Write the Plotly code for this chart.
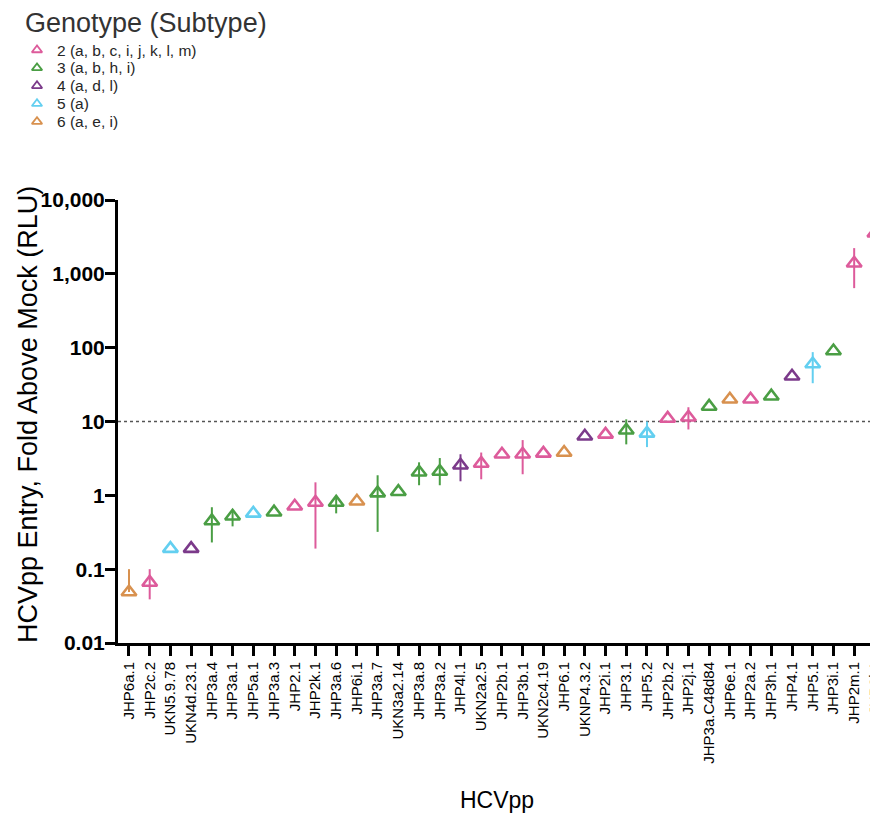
import plotly.graph_objects as go

# ---------------- data ----------------
names = ["JHP6a.1", "JHP2c.2", "UKN5.9.78", "UKN4d.23.1", "JHP3a.4", "JHP3a.1",
         "JHP5a.1", "JHP3a.3", "JHP2.1", "JHP2k.1", "JHP3a.6", "JHP6i.1",
         "JHP3a.7", "UKN3a2.14", "JHP3a.8", "JHP3a.2", "JHP4l.1", "UKN2a2.5",
         "JHP2b.1", "JHP3b.1", "UKN2c4.19", "JHP6.1", "UKNP4.3.2", "JHP2i.1",
         "JHP3.1", "JHP5.2", "JHP2b.2", "JHP2j.1", "JHP3a.C48d84", "JHP6e.1",
         "JHP2a.2", "JHP3h.1", "JHP4.1", "JHP5.1", "JHP3i.1", "JHP2m.1", "JHP2l.1"]
genotype = [6, 2, 5, 4, 3, 3, 5, 3, 2, 2, 3, 6, 3, 3, 3, 3, 4, 2, 2, 2, 2, 6, 4, 2,
            3, 5, 2, 2, 3, 6, 2, 3, 4, 5, 3, 2, 2]
mean = [0.049, 0.066, 0.19, 0.19, 0.45, 0.52, 0.57, 0.59, 0.71, 0.80, 0.80, 0.83,
        1.07, 1.12, 2.05, 2.1, 2.55, 2.7, 3.6, 3.6, 3.7, 3.8, 6.3, 6.7,
        7.6, 6.9, 11.0, 11.4, 16.0, 20.0, 20.0, 22.0, 41.0, 60.0, 90.0, 1390.0, 3550.0]
upper = [0.10, 0.10, 0.19, 0.19, 0.69, 0.62, 0.57, 0.59, 0.71, 1.50, 1.0, 0.83,
         1.87, 1.12, 2.8, 3.2, 3.6, 3.8, 3.6, 5.6, 3.7, 3.8, 6.3, 6.7,
         10.7, 10.0, 11.0, 15.6, 16.0, 20.0, 20.0, 22.0, 41.0, 87.0, 90.0, 2230.0, 5650.0]
lower = [0.049, 0.039, 0.19, 0.19, 0.23, 0.38, 0.57, 0.59, 0.71, 0.19, 0.57, 0.83,
         0.32, 1.12, 1.37, 1.37, 1.55, 1.65, 3.6, 1.93, 3.7, 3.8, 6.3, 6.7,
         4.9, 4.5, 11.0, 7.8, 16.0, 20.0, 20.0, 22.0, 41.0, 33.0, 90.0, 640.0, 1440.0]

groups = [2, 3, 4, 5, 6]
group_labels = ["2 (a, b, c, i, j, k, l, m)", "3 (a, b, h, i)", "4 (a, d, l)",
                "5 (a)", "6 (a, e, i)"]
group_colors = ["#DD5B9B", "#4A9E44", "#7B3A8A", "#63CFF0", "#D8914F"]

y_tickvals = [0.01, 0.1, 1, 10, 100, 1000, 10000]
y_ticktext = ["0.01", "0.1", "1", "10", "100", "1,000", "10,000"]
threshold = 10

legend_title = "Genotype (Subtype)"
x_title = "HCVpp"
y_title = "HCVpp Entry, Fold Above Mock (RLU)"

# ---------------- layout constants (page pixel positions) ----------------
FONT = "Arial, Liberation Sans, Helvetica, sans-serif"
W, H = 870, 805          # page body has an 8px margin -> figure spans 8..878 / 8..813
OFF = 8
PLOT_L, PLOT_R, PLOT_T, PLOT_B = 118, 878, 200, 643
LEG_MX, LEG_TX = 37, 55
LEG_ROW0, LEG_DY = 50, 17.9

fig = go.Figure()

for g, lab, col in zip(groups, group_labels, group_colors):
    idx = [i for i, gg in enumerate(genotype) if gg == g]
    xs = [names[i] for i in idx]
    ys = [mean[i] for i in idx]
    ep = [upper[i] - mean[i] for i in idx]
    em = [mean[i] - lower[i] for i in idx]
    fig.add_trace(go.Scatter(
        x=xs, y=ys, mode="markers", name=lab, showlegend=False, cliponaxis=True,
        marker=dict(symbol="triangle-up-open", size=13, color=col,
                    line=dict(width=2.6, color=col)),
        error_y=dict(type="data", symmetric=False, array=ep, arrayminus=em,
                     color=col, thickness=2, width=0),
        xaxis="x", yaxis="y",
    ))

# custom legend drawn on an overlay axis in page-pixel coordinates
leg_rows = [LEG_ROW0 + k * LEG_DY for k in range(len(groups))]
fig.add_trace(go.Scatter(
    x=[LEG_MX] * len(groups), y=leg_rows, mode="markers", showlegend=False,
    hoverinfo="skip", cliponaxis=False,
    marker=dict(symbol="triangle-up-open", size=9, color=group_colors,
                line=dict(width=1.8, color=group_colors)),
    xaxis="x2", yaxis="y2",
))
annotations = []
for lab, yy in zip(group_labels, leg_rows):
    annotations.append(dict(text=lab, x=LEG_TX, y=yy, xref="x2", yref="y2",
                            xanchor="left", yanchor="middle", showarrow=False,
                            font=dict(size=15.5, color="#262626", family=FONT)))
annotations.append(dict(text=legend_title, x=23, y=23, xref="x2", yref="y2",
                        xanchor="left", yanchor="middle", showarrow=False,
                        font=dict(size=27, color="#333333", family=FONT)))
annotations.append(dict(text=y_title, x=28, y=415, xref="x2", yref="y2",
                        xanchor="center", yanchor="middle", showarrow=False,
                        textangle=-90, font=dict(size=27, color="black", family=FONT)))
annotations.append(dict(text=x_title, x=497, y=800, xref="x2", yref="y2",
                        xanchor="center", yanchor="middle", showarrow=False,
                        font=dict(size=23, color="black", family=FONT)))

fig.add_shape(type="line", xref="x domain", yref="y", x0=0, x1=1,
              y0=threshold, y1=threshold,
              line=dict(color="#555555", width=1.3, dash="dot"), layer="below")

fig.update_layout(
    width=W, height=H,
    margin=dict(l=0, r=0, t=0, b=0, pad=0, autoexpand=False),
    paper_bgcolor="white", plot_bgcolor="rgba(0,0,0,0)",
    font=dict(family=FONT, color="black"),
    showlegend=False,
    annotations=annotations,
    xaxis=dict(
        domain=[(PLOT_L - OFF) / W, (PLOT_R - OFF) / W],
        type="category", categoryorder="array", categoryarray=names,
        tickmode="array", tickvals=names, ticktext=names,
        range=[-0.53, 36.15],
        showline=True, linecolor="black", linewidth=3,
        ticks="outside", ticklen=10, tickwidth=3, tickcolor="black",
        tickangle=-90, tickfont=dict(size=15, family=FONT),
        showgrid=False, zeroline=False, anchor="y",
    ),
    yaxis=dict(
        domain=[1 - (PLOT_B - OFF) / H, 1 - (PLOT_T - OFF) / H],
        type="log", range=[-2, 4],
        tickvals=y_tickvals, ticktext=y_ticktext,
        showline=True, linecolor="black", linewidth=3,
        ticks="outside", ticklen=10, tickwidth=3, tickcolor="black",
        tickfont=dict(size=21, family=FONT, weight="bold"),
        ticklabelstandoff=-4,
        showgrid=False, zeroline=False, anchor="x",
    ),
    xaxis2=dict(domain=[0, 1], range=[OFF, OFF + W], visible=False,
                anchor="y2", fixedrange=True),
    yaxis2=dict(domain=[0, 1], range=[OFF + H, OFF], visible=False,
                anchor="x2", fixedrange=True),
)

fig.write_html("out.html")
